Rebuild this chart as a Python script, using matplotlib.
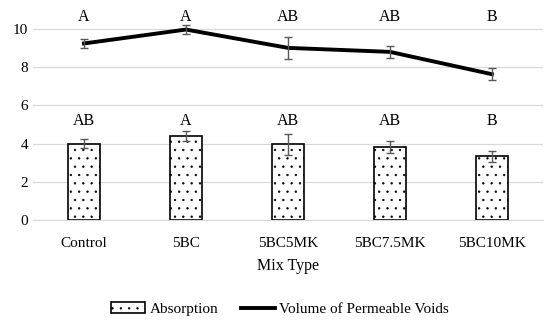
import matplotlib.pyplot as plt
import numpy as np

plt.rcParams['font.family'] = 'Liberation Serif'
plt.rcParams['hatch.linewidth'] = 0.45
plt.rcParams['hatch.color'] = '#333333'

# data
mixes = ['Control', '5BC', '5BC5MK', '5BC7.5MK', '5BC10MK']
absorption = [4.00, 4.40, 3.97, 3.82, 3.33]
absorption_err = [0.25, 0.26, 0.55, 0.31, 0.30]
vpv = [9.25, 9.98, 9.02, 8.81, 7.64]
vpv_err = [0.23, 0.23, 0.57, 0.33, 0.31]
abs_letters = ['AB', 'A', 'AB', 'AB', 'B']
vpv_letters = ['A', 'A', 'AB', 'AB', 'B']

fig = plt.figure(figsize=(5.5, 3.24), dpi=100)
ax = fig.add_axes([0.06, 0.321, 0.927, 0.642])

x = np.arange(len(mixes))
bars = ax.bar(x, absorption, width=0.32, color='white', edgecolor='black',
              linewidth=1.2, hatch='..', label='Absorption', zorder=2)
ax.errorbar(x, absorption, yerr=absorption_err, fmt='none', ecolor='#595959',
            elinewidth=1, capsize=3, capthick=1, zorder=3)
line, = ax.plot(x, vpv, color='black', linewidth=2.8, label='Volume of Permeable Voids', zorder=4)
ax.errorbar(x, vpv, yerr=vpv_err, fmt='none', ecolor='#595959',
            elinewidth=1, capsize=3, capthick=1, zorder=5)

for i in range(len(mixes)):
    ax.text(x[i], 5.2, abs_letters[i], ha='center', va='center', fontsize=11.5)
    ax.text(x[i], 10.65, vpv_letters[i], ha='center', va='center', fontsize=11.5)

ax.set_xlim(-0.5, 4.5)
ax.set_ylim(0, 10.9)
ax.set_yticks([0, 2, 4, 6, 8, 10])
ax.yaxis.grid(True, color='#d9d9d9', linewidth=0.9, zorder=0)
ax.set_axisbelow(True)
for s in ['top', 'right', 'left']:
    ax.spines[s].set_visible(False)
ax.spines['bottom'].set_color('#d9d9d9')
ax.tick_params(axis='both', length=0, labelsize=11)
ax.tick_params(axis='x', pad=12)
ax.set_xticks(x)
ax.set_xticklabels(mixes)
ax.set_xlabel('Mix Type', fontsize=11.5, labelpad=6)

ax.legend(handles=[bars, line], loc='upper center', bbox_to_anchor=(0.485, -0.33), ncol=2,
          frameon=False, fontsize=11, handlelength=2.2, columnspacing=1.5, handletextpad=0.3)

fig.savefig('out.png', dpi=100)
